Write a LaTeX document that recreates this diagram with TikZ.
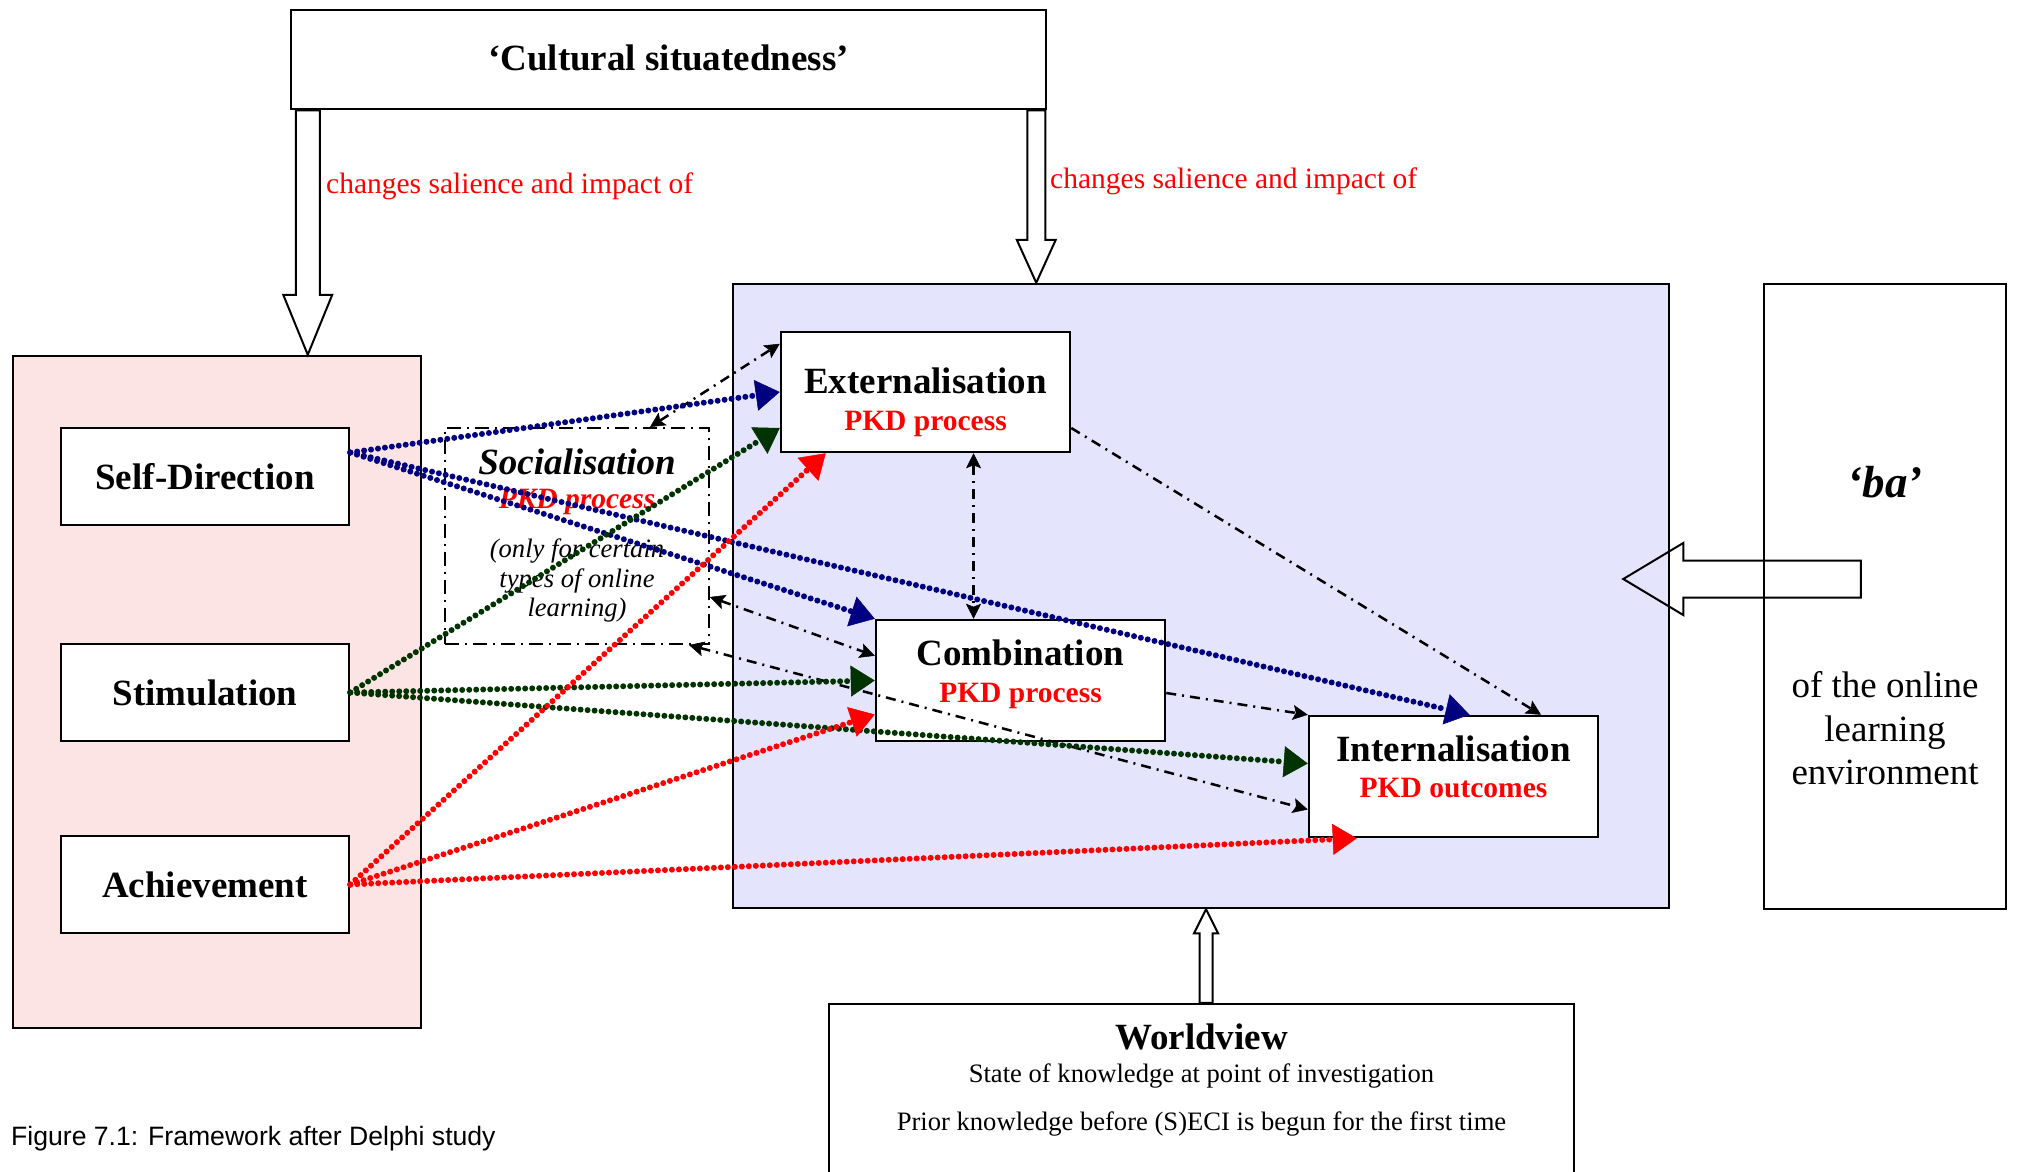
\documentclass[tikz,border=0pt]{standalone}
\usepackage{fontspec}
\setmainfont{Liberation Serif}
\newfontfamily\capfont{Liberation Sans}
\usetikzlibrary{arrows.meta,calc}

\definecolor{pinkbg}{RGB}{253,228,228}
\definecolor{lavbg}{RGB}{228,228,252}
\definecolor{navyc}{RGB}{0,0,128}
\definecolor{greenc}{RGB}{0,51,0}
\definecolor{redc}{RGB}{255,0,0}

\tikzset{
  box/.style={draw=black, line width=2.5pt, fill=white, inner sep=0pt, rectangle},
  headline/.style={font=\fontsize{37}{44}\selectfont\bfseries, inner sep=0pt},
  subline/.style={font=\fontsize{29.5}{35}\selectfont\bfseries, text=redc, inner sep=0pt},
  plainline/.style={font=\fontsize{37}{44}\selectfont, inner sep=0pt},
  smallline/.style={font=\fontsize{26.6}{31}\selectfont, inner sep=0pt},
  note/.style={font=\fontsize{29.5}{35}\selectfont, text=redc, inner sep=0pt},
  bigtip/.tip={Triangle[length=24pt,width=31pt,line width=0.5pt]},
  smalltip/.tip={Stealth[length=15pt,width=15pt,inset=3pt,line width=0.5pt]},
  dots/.style={line width=6pt, line cap=round, dash pattern=on 0pt off 7pt, -bigtip},
  navyline/.style={dots, draw=navyc},
  greenline/.style={dots, draw=greenc},
  redline/.style={dots, draw=redc},
  dashdot/.style={line width=2.5pt, draw=black, dash pattern=on 10pt off 6pt on 2pt off 6pt},
  hollow/.style={draw=black, line width=2pt, line join=miter},
}

% hollow block arrow: start, end, shaft half width, head half width, head length
\newcommand\blockarrow[5]{%
  \path ($(#2)!#5!(#1)$) coordinate (bhead);
  \draw[hollow] ($(#1)!#3!90:(#2)$) -- ($(bhead)!#3!90:(#2)$)
    -- ($(bhead)!#4!90:(#2)$) -- (#2) -- ($(bhead)!#4!-90:(#2)$)
    -- ($(bhead)!#3!-90:(#2)$) -- ($(#1)!#3!-90:(#2)$) -- cycle;}

\begin{document}
\begin{tikzpicture}[x=1pt,y=-1pt]
\clip (0,0) rectangle (2017,1171);

% panels
\node[box, fill=pinkbg, minimum width=408pt, minimum height=672pt] (vals) at (217,692) {};
\node[box, fill=lavbg, minimum width=936pt, minimum height=624pt] (seci) at (1201,596) {};
\node[box, minimum width=755pt, minimum height=99pt] (cult) at (668.5,59.5) {};
\node[box, minimum width=242pt, minimum height=625pt] (ba) at (1885,596.5) {};
\node[box, minimum width=745pt, minimum height=186pt] (world) at (1201.5,1097) {};

% value boxes
\node[box, minimum width=288pt, minimum height=97pt] (sd) at (205,476.5) {};
\node[box, minimum width=288pt, minimum height=97pt] (stim) at (205,692.5) {};
\node[box, minimum width=288pt, minimum height=97pt] (ach) at (205,884.5) {};

% SECI boxes
\node[draw=black, line width=2pt, dash pattern=on 14pt off 6pt on 2pt off 6pt,
      inner sep=0pt, minimum width=264pt, minimum height=216pt] (soc) at (577,536) {};
\node[box, minimum width=289pt, minimum height=120pt] (ext) at (925.5,392) {};
\node[box, minimum width=289pt, minimum height=121pt] (comb) at (1020.5,680.5) {};
\node[box, minimum width=289pt, minimum height=121pt] (int) at (1453.5,776.5) {};

% texts
\node[headline, anchor=base] (cultT) at (668.5,70) {‘Cultural situatedness’};
\node[note, anchor=base west] (noteL) at (326,193) {changes salience and impact of};
\node[note, anchor=base west] (noteR) at (1050,188) {changes salience and impact of};

\node[headline, anchor=base] (sdT) at (205,489) {Self-Direction};
\node[headline, anchor=base] (stimT) at (205,705) {Stimulation};
\node[headline, anchor=base] (achT) at (205,897) {Achievement};

\node[headline, anchor=base] (extT) at (925.5,393) {Externalisation};
\node[subline, anchor=base] (extS) at (925.5,430) {PKD process};
\node[headline, anchor=base] (combT) at (1020.5,665) {Combination};
\node[subline, anchor=base] (combS) at (1020.5,702) {PKD process};
\node[headline, anchor=base] (intT) at (1453.5,761) {Internalisation};
\node[subline, anchor=base] (intS) at (1453.5,797) {PKD outcomes};

\node[headline, font=\fontsize{37}{44}\selectfont\bfseries\itshape, anchor=base] (socT) at (577,474) {Socialisation};
\node[subline, font=\fontsize{29.5}{35}\selectfont\bfseries\itshape, anchor=base] (socS) at (577,508) {PKD process};
\node[smallline, font=\fontsize{26.6}{31}\selectfont\itshape, anchor=base] (socA) at (577,557) {(only for certain};
\node[smallline, font=\fontsize{26.6}{31}\selectfont\itshape, anchor=base] (socB) at (577,587) {types of online};
\node[smallline, font=\fontsize{26.6}{31}\selectfont\itshape, anchor=base] (socC) at (577,616) {learning)};

\node[headline, font=\fontsize{45}{52}\selectfont\bfseries\itshape, anchor=base] (baT) at (1885,497) {‘ba’};
\node[plainline, anchor=base] (baA) at (1885,697) {of the online};
\node[plainline, anchor=base] (baB) at (1885,741) {learning};
\node[plainline, anchor=base] (baC) at (1885,784) {environment};

\node[headline, anchor=base] (worldT) at (1201.5,1049) {Worldview};
\node[smallline, anchor=base] (worldA) at (1201.5,1082) {State of knowledge at point of investigation};
\node[smallline, anchor=base] (worldB) at (1201.5,1130) {Prior knowledge before (S)ECI is begun for the first time};

\node[inner sep=0pt, font=\capfont\fontsize{26.6}{31}\selectfont, anchor=base west] (caption) at (11,1145) {Figure 7.1: Framework after Delphi study};

% hollow block arrows
\coordinate (a1s) at ([xshift=18pt]cult.south west);
\coordinate (a1e) at (a1s |- vals.north);
\blockarrow{a1s}{a1e}{12pt}{24.5pt}{60pt}
\coordinate (a2s) at ([xshift=-11pt]cult.south east);
\coordinate (a2e) at (a2s |- seci.north);
\blockarrow{a2s}{a2e}{9pt}{19.5pt}{43pt}
\coordinate (a3s) at ([xshift=4.5pt]world.north);
\coordinate (a3e) at (a3s |- seci.south);
\blockarrow{a3s}{a3e}{6.5pt}{12pt}{24pt}
\coordinate (a4s) at ([xshift=98pt,yshift=17.5pt]ba.west);
\coordinate (a4t) at ([xshift=-47pt]seci.east);
\coordinate (a4e) at (a4t |- a4s);
\blockarrow{a4s}{a4e}{18.5pt}{36pt}{60pt}

% dash-dot links between the modes
\coordinate (v1) at ([xshift=48pt]ext.south);
\draw[dashdot, smalltip-smalltip] ([xshift=73pt]soc.north) -- ([yshift=-13pt]ext.north west);
\draw[dashdot, smalltip-smalltip] (v1) -- (v1 |- comb.north);
\draw[dashdot, -smalltip] ([yshift=-36pt]ext.east) -- ([xshift=87.5pt]int.north);
\draw[dashdot, smalltip-smalltip] ([yshift=-61pt]soc.east) -- ([yshift=-37pt]comb.north west);
\draw[dashdot, smalltip-smalltip] ([xshift=-21pt]soc.south east) -- ([yshift=-33pt]int.west);
\draw[dashdot, -smalltip] ([yshift=-12.5pt]comb.east) -- (int.north west);

% value influences
\draw[navyline] ([yshift=24pt]sd.east) -- (ext.west);
\draw[navyline] ([yshift=24pt]sd.east) -- (comb.north west);
\draw[navyline] ([yshift=24pt]sd.east) -- ([xshift=16pt]int.north);
\draw[greenline] (stim.east) -- ([yshift=-36pt]ext.west);
\draw[greenline] (stim.east) -- (comb.west);
\draw[greenline] (stim.east) -- ([yshift=13pt]int.west);
\draw[redline] (ach.east) -- ([xshift=46pt]ext.south west);
\draw[redline] (ach.east) -- ([yshift=-34pt]comb.west);
\draw[redline] (ach.east) -- ([xshift=49pt]int.south west);
\end{tikzpicture}
\end{document}
